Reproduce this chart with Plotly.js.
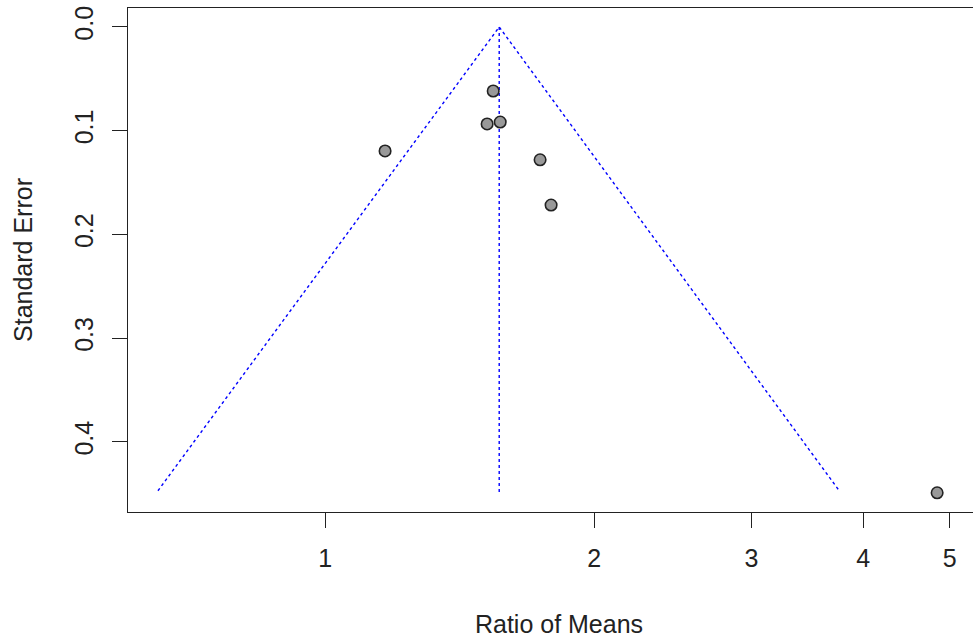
<!DOCTYPE html>
<html>
<head>
<meta charset="utf-8">
<script src="https://cdn.plot.ly/plotly-3.0.1.min.js"></script>
<style>
html, body { margin: 0; padding: 0; overflow: hidden; background: #fff; }
#chart { width: 990px; height: 641px; }
</style>
</head>
<body>
<div id="chart"></div>
<script>
// Study estimates (ratio of means) and their standard errors
const ratioOfMeans = [1.542, 1.518, 1.570, 1.167, 1.740, 1.790, 4.84];
const standardErrors = [0.0617, 0.0935, 0.0916, 0.1195, 0.128, 0.1716, 0.449];
// Pooled estimate and funnel boundaries
const pooledEstimate = 1.566;
const funnelBottomSE = 0.447;
const funnelLeft = 0.650;
const funnelRight = 3.761;
// Tick labels
const xTickVals = [1, 2, 3, 4, 5];
const xTickText = ["1", "2", "3", "4", "5"];
const yTickVals = [0, 0.1, 0.2, 0.3, 0.4];
const yTickText = ["0.0", "0.1", "0.2", "0.3", "0.4"];

const font = "Liberation Sans, Arial, sans-serif";

const traces = [
  {
    x: [funnelLeft, pooledEstimate, funnelRight],
    y: [funnelBottomSE, 0, funnelBottomSE],
    mode: "lines",
    line: { color: "blue", width: 1.4, dash: "dot" },
    hoverinfo: "skip",
    showlegend: false
  },
  {
    x: [pooledEstimate, pooledEstimate],
    y: [0, funnelBottomSE + 0.002],
    mode: "lines",
    line: { color: "blue", width: 1.4, dash: "dot" },
    hoverinfo: "skip",
    showlegend: false
  },
  {
    x: ratioOfMeans,
    y: standardErrors,
    mode: "markers",
    marker: { size: 11.5, color: "#999999", line: { color: "#222222", width: 1.6 } },
    showlegend: false
  }
];

const layout = {
  width: 990,
  height: 641,
  margin: { l: 128, r: 0, t: 8, b: 129 },
  paper_bgcolor: "#ffffff",
  plot_bgcolor: "#ffffff",
  font: { family: font, size: 25, color: "#222222" },
  showlegend: false,
  xaxis: {
    type: "log",
    range: [-0.2206, 0.7440],
    tickvals: xTickVals,
    ticktext: xTickText,
    ticks: "outside",
    ticklen: 15,
    tickwidth: 1,
    tickcolor: "#222222",
    ticklabelstandoff: 9,
    showline: true,
    linecolor: "#222222",
    linewidth: 1,
    mirror: true,
    showgrid: false,
    zeroline: false,
    title: { text: "Ratio of Means", font: { family: font, size: 25, color: "#222222" }, standoff: 44 }
  },
  yaxis: {
    range: [0.4675, -0.0183],
    tickvals: yTickVals,
    ticktext: yTickText,
    tickangle: -90,
    ticks: "outside",
    ticklen: 15,
    tickwidth: 1,
    tickcolor: "#222222",
    ticklabelstandoff: 9,
    showline: true,
    linecolor: "#222222",
    linewidth: 1,
    mirror: true,
    showgrid: false,
    zeroline: false,
    title: { text: "Standard Error", font: { family: font, size: 25, color: "#222222" }, standoff: 30 }
  }
};

Plotly.newPlot("chart", traces, layout, { displayModeBar: false, staticPlot: true });
</script>
</body>
</html>
